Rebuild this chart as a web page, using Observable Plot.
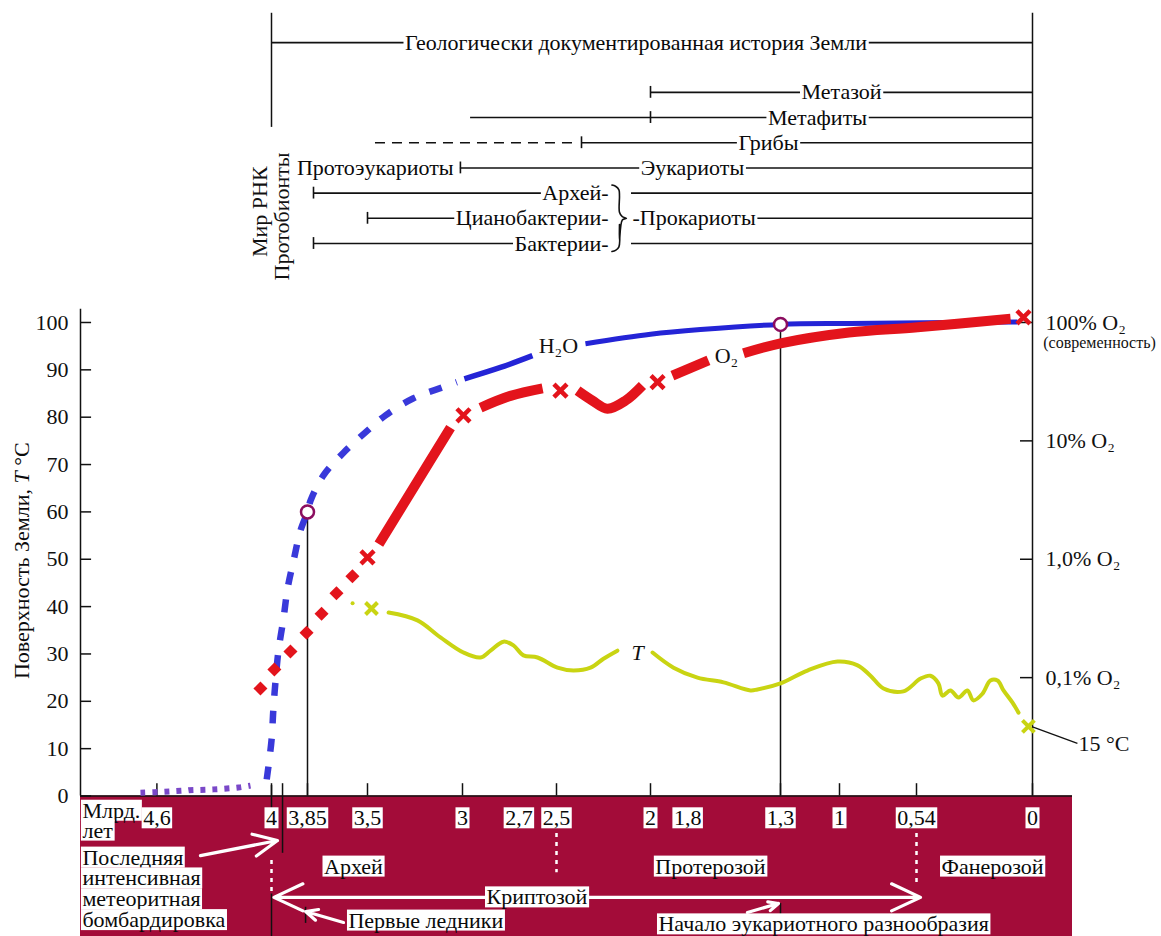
<!DOCTYPE html>
<html><head><meta charset="utf-8">
<script src="https://cdn.jsdelivr.net/npm/d3@7"></script>
<script src="https://cdn.jsdelivr.net/npm/@observablehq/plot@0.6"></script>
<style>body{margin:0;background:#fff} svg{display:block}</style>
</head><body><div id="chart"></div>
<script>
// ---------------- DATA (age in billions of years, value in % / °C) ----------------
const ageTicks = [4.6, 4, 3.85, 3.5, 3, 2.5, 2, 1.3, 1, 0.54, 0];
const ageLabelValues = [4.6, 4, 3.85, 3.5, 3, 2.7, 2.5, 2, 1.8, 1.3, 1, 0.54, 0];
const ageLabels = ["4,6", "4", "3,85", "3,5", "3", "2,7", "2,5", "2", "1,8", "1,3", "1", "0,54", "0"];
const tempTicks = [0, 10, 20, 30, 40, 50, 60, 70, 80, 90, 100];
const o2TickValues = [100, 75, 50, 25];
const o2TickLabels = ["100% O₂", "10% O₂", "1,0% O₂", "0,1% O₂"];

// H2O (blue)
const h2oDotted = [[4.686, 0.7], [4.565, 0.9], [4.435, 1.2], [4.304, 1.4], [4.173, 1.8], [4.11, 2.2]];
const h2oDashed = [[4.025, 3.5], [4.0, 11.7], [3.992, 18.5], [3.983, 24.4], [3.971, 30.7], [3.95, 37.5], [3.933, 43.8],
  [3.908, 49.7], [3.879, 56.1], [3.85, 60], [3.832, 62.4], [3.757, 67.7], [3.64, 72.5], [3.512, 76.8],
  [3.405, 80.4], [3.258, 84.0], [3.105, 86.3], [3.03, 87.4]];
const h2oSolid1 = [[2.99, 88.1], [2.798, 90.5], [2.628, 93.0]];
const h2oSolid2 = [[2.346, 95.5], [2.0, 97.5], [1.731, 98.5], [1.3, 99.6], [0.934, 99.8], [0.382, 100], [0.07, 100.1]];

// O2 (red)
const o2Diamonds = [[4.058, 22.7], [3.988, 26.7], [3.921, 30.5], [3.854, 34.5], [3.768, 38.5], [3.681, 42.8], [3.588, 46.4]];
const o2Crosses = [[3.5, 50.4], [2.995, 80.4], [2.479, 85.6], [1.962, 87.4], [0.042, 101.1]];
const o2Seg1 = [[3.44, 53.2], [3.25, 65.6], [3.063, 77.8]];
const o2Seg2 = [[2.904, 82.0], [2.745, 84.5], [2.574, 86.1]];
const o2Seg3 = [[2.388, 85.6], [2.309, 83.5], [2.229, 81.8], [2.133, 83.5], [2.043, 86.7]];
const o2Seg4 = [[1.882, 88.8], [1.688, 92.0]];
const o2Seg5 = [[1.499, 93.5], [1.3, 95.6], [0.944, 97.9], [0.535, 99.0], [0.102, 100.8]];

// Temperature (yellow)
const tempDot = [[3.587, 40.7]];
const tempCrosses = [[3.479, 39.6], [0.019, 14.7]];
const tempSeg1 = [[3.389, 38.75], [3.237, 37.1], [3.116, 33.5], [2.995, 30.3], [2.904, 29.25], [2.851, 30.7],
  [2.782, 32.6], [2.729, 31.8], [2.676, 29.7], [2.601, 29.25], [2.495, 27.1], [2.41, 26.5], [2.319, 27.1],
  [2.25, 29.0], [2.176, 30.7]];
const tempSeg2 = [[1.989, 30.3], [1.876, 27.1], [1.747, 25.0], [1.607, 24.0], [1.462, 22.3], [1.424, 22.5],
  [1.3, 23.8], [1.163, 26.5], [1.01, 28.4], [0.892, 27.6], [0.815, 25.4], [0.737, 22.7], [0.618, 22.1],
  [0.521, 24.8], [0.475, 25.4], [0.438, 23.8], [0.419, 21.2], [0.382, 22.3], [0.344, 20.8], [0.303, 22.3],
  [0.275, 20.2], [0.233, 21.6], [0.196, 24.4], [0.163, 24.4], [0.135, 22.3], [0.093, 19.7], [0.065, 17.6]];

// Key points
const keyPoints = [[3.85, 60], [1.3, 99.6]];

// Lineages timeline (row 0 = top)
const lineageNames = ["Метазой", "Метафиты", "Грибы", "Эукариоты", "Архей-", "Цианобактерии-", "Бактерии-"];
const lineageStart = [2.0, 2.957, 2.367, 3.011, 3.815, 3.5, 3.815];
const lineageLabelAge = [0.988, 1.112, 1.365, 1.774, 2.223, 2.223, 2.223];
const lineageBars = [[2.0, 0], [2.0, 1], [2.367, 2], [3.011, 3], [3.815, 4], [3.5, 5], [3.815, 6]];
const fungiDashed = [3.458, 2.41];
const prokaryoteRightStart = 2.101;

// Eras and events
const eraNames = ["Архей", "Протерозой", "Фанерозой"];
const eraLabelAge = [3.582, 1.677, 0.186];
const meteoriteLines = ["Последняя", "интенсивная", "метеоритная", "бомбардировка"];

// ---------------- LAYOUT ----------------
const W = 1161, H = 936;
const xDomain = [5.0, 4, 3.85, 3.5, 3, 2.5, 2, 1.3, 1, 0.54, 0, -0.2155];
const xRange = [80, 271, 307, 367, 462, 556, 650, 780, 839, 916, 1032, 1072];
const yMin = -29.67, yMax = 168.0;
const ROW0 = 148.6, ROWSTEP = 5.32;
const rowV = k => ROW0 - ROWSTEP * k;
const GEO_V = 159.1;

const RED = "#e3141c", BLUE = "#2424d6", PURPLE = "#7a48c8", YELLOW = "#c9d412",
      MAROON = "#a30c39", RING = "#8b0d5f", INK = "#111111", BOXINK = "#0a0a0a", TITLEINK = "#0b0b0b";
const serif = "Liberation Serif";
const FS = 22;
const P = a => a.map(([x, y]) => ({x, y}));
const left = xDomain[0], right = xDomain[xDomain.length - 1];

const boxedText = (data, opts) => Plot.text(data, {fontFamily: serif, fontSize: FS, fill: BOXINK, ...opts});

// brace joining the three prokaryote rows
const braceX = [2.205, 2.186, 2.168, 2.165, 2.165, 2.15, 2.128, 2.15, 2.165, 2.165, 2.168, 2.186, 2.205];
const braceDY = [1.7, 1.45, 0.7, -0.6, null, 0.35, 0, -0.35, null, 0.6, -0.7, -1.45, -1.7];
const braceRow = [4, 4, 4, 4, 5, 5, 5, 5, 5, 6, 6, 6, 6];
const bracePts = braceX.map((x, i) => ({x, y: braceDY[i] === null ? null : rowV(braceRow[i]) + braceDY[i]}))
  .filter(d => d.y !== null);
bracePts.splice(4, 0, {x: 2.165, y: rowV(5) + 1.3});
bracePts.splice(9, 0, {x: 2.165, y: rowV(5) - 1.3});

const marks = [
  // bottom band
  Plot.rect([0], {x1: left, x2: right, y1: yMin, y2: 0, fill: MAROON}),
  // axes lines
  Plot.ruleY([0], {x1: left, x2: right, stroke: INK, strokeWidth: 1.5}),
  Plot.ruleX([left], {y1: 0, y2: 102.8, stroke: INK, strokeWidth: 1.5}),
  Plot.ruleX([0], {y1: 0, y2: 165.3, stroke: INK, strokeWidth: 1.5}),
  Plot.ruleX([4], {y1: 141.2, y2: 165.3, stroke: INK, strokeWidth: 1.5}),
  Plot.ruleY(tempTicks, {x1: left, x2: 4.942, stroke: INK, strokeWidth: 1.5}),
  Plot.ruleY(o2TickValues, {x1: 0, x2: 0.056, stroke: INK, strokeWidth: 1.5}),
  Plot.ruleX(ageTicks, {y1: 0, y2: 2.6, stroke: INK, strokeWidth: 1.5}),
  Plot.axisY({anchor: "left", ticks: tempTicks, tickSize: 0, tickPadding: 12, label: null,
    fontSize: FS, fontFamily: serif, fill: INK}),

  // guide lines from key points
  Plot.ruleX(P(keyPoints), {x: "x", y1: 0, y2: "y", stroke: INK, strokeWidth: 1.5}),

  // band details
  Plot.ruleX([{x: 2.5, a: -7.9, b: -16.2}, {x: 0.54, a: -7.9, b: -19.2}, {x: 4.0, a: -13.6, b: -20.7}],
    {x: "x", y1: "a", y2: "b", stroke: "white", strokeWidth: 2.5, strokeDasharray: "4,5"}),
  Plot.ruleX([{x: 4.0, a: 2.2, b: -2.6}, {x: 3.954, a: 2.6, b: -12.1}, {x: 4.0, a: -20.7, b: yMin},
    {x: 1.3, a: -22.7, b: -25.6}, {x: 3.858, a: -23.5, b: -26.9}],
    {x: "x", y1: "a", y2: "b", stroke: INK, strokeWidth: 1.5}),
  Plot.arrow([
      {x1: 4.372, y1: -12.6, x2: 3.975, y2: -9.4},
      {x1: 2.604, y1: -21.4, x2: 3.99, y2: -21.4},
      {x1: 2.604, y1: -21.4, x2: 0.521, y2: -21.4},
      {x1: 3.64, y1: -26.7, x2: 3.858, y2: -24.4},
      {x1: 1.478, y1: -24.6, x2: 1.311, y2: -22.7}],
    {x1: "x1", y1: "y1", x2: "x2", y2: "y2", stroke: "white", strokeWidth: 3.2, headLength: 15, headAngle: 50}),

  // top timeline
  Plot.ruleY([GEO_V], {x1: 4, x2: 0, stroke: INK, strokeWidth: 1.6}),
  Plot.ruleY([0, 1, 2, 3], {y: k => rowV(k), x1: k => lineageStart[k], x2: 0, stroke: INK, strokeWidth: 1.6}),
  Plot.ruleY([2], {y: k => rowV(k), x1: fungiDashed[0], x2: fungiDashed[1], stroke: INK, strokeWidth: 1.6, strokeDasharray: "10,7"}),
  Plot.ruleY([4, 5, 6], {y: k => rowV(k), x1: k => lineageStart[k], x2: k => lineageLabelAge[k], stroke: INK, strokeWidth: 1.6}),
  Plot.ruleY([4, 5, 6], {y: k => rowV(k), x1: prokaryoteRightStart, x2: 0, stroke: INK, strokeWidth: 1.6}),
  Plot.ruleX(lineageBars, {x: d => d[0], y1: d => rowV(d[1]) - 1.25, y2: d => rowV(d[1]) + 1.25, stroke: INK, strokeWidth: 1.6}),
  Plot.line(bracePts, {x: "x", y: "y", stroke: INK, strokeWidth: 1.6, curve: "catmull-rom"}),

  // curves: H2O
  Plot.line(P(h2oDotted), {x: "x", y: "y", stroke: PURPLE, strokeWidth: 6, strokeDasharray: "5,7", strokeLinecap: "butt", curve: "catmull-rom"}),
  Plot.line(P(h2oDashed), {x: "x", y: "y", stroke: BLUE, strokeWidth: 6.5, strokeDasharray: "13,15", strokeLinecap: "butt", curve: "catmull-rom", strokeOpacity: 0.9}),
  Plot.line(P(h2oSolid1), {x: "x", y: "y", stroke: BLUE, strokeWidth: 5.5, strokeLinecap: "butt", curve: "catmull-rom"}),
  Plot.line(P(h2oSolid2), {x: "x", y: "y", stroke: BLUE, strokeWidth: 5, strokeLinecap: "butt", curve: "catmull-rom"}),
  // O2
  ...[o2Seg1, o2Seg2, o2Seg3, o2Seg4, o2Seg5].map(s =>
    Plot.line(P(s), {x: "x", y: "y", stroke: RED, strokeWidth: 10, strokeLinecap: "butt", curve: "catmull-rom"})),
  Plot.dot(P(o2Diamonds), {x: "x", y: "y", symbol: "square", rotate: 45, r: 5.6, fill: RED}),
  Plot.dot(P(o2Crosses), {x: "x", y: "y", symbol: "times", r: 6, stroke: RED, strokeWidth: 4.5}),
  // Temperature
  Plot.line(P(tempSeg1), {x: "x", y: "y", stroke: YELLOW, strokeWidth: 4, curve: "catmull-rom"}),
  Plot.line(P(tempSeg2), {x: "x", y: "y", stroke: YELLOW, strokeWidth: 4, curve: "catmull-rom"}),
  Plot.dot(P(tempDot), {x: "x", y: "y", r: 2, fill: YELLOW}),
  Plot.dot(P(tempCrosses), {x: "x", y: "y", symbol: "times", r: 5.5, stroke: YELLOW, strokeWidth: 4}),
  // key point rings
  Plot.dot(P(keyPoints), {x: "x", y: "y", r: 6.5, fill: "white", stroke: RING, strokeWidth: 2.5}),

  // curve labels
  Plot.text([{x: 2.49, y: 95.1, t: "H₂O"}, {x: 1.591, y: 93.0, t: "O₂"}], {x: "x", y: "y", text: "t", fontFamily: serif, fontSize: FS, fill: INK}),
  Plot.text([{x: 2.069, y: 30.3}], {x: "x", y: "y", text: () => "T", fontFamily: serif, fontSize: FS, fontStyle: "italic", fill: INK}),

  // right-hand O2 labels
  Plot.text(o2TickValues, {x: -0.07, y: d => d, text: (d, i) => o2TickLabels[i], textAnchor: "start", fontFamily: serif, fontSize: FS, fill: INK}),
  Plot.text(["(современность)"], {x: -0.058, y: 95.6, text: d => d, textAnchor: "start", fontFamily: serif, fontSize: 16, fill: INK}),
  Plot.link([{x1: 0.0, y1: 14.6, x2: -0.242, y2: 11.1}], {x1: "x1", y1: "y1", x2: "x2", y2: "y2", stroke: INK, strokeWidth: 1.3}),
  Plot.text(["15 °C"], {x: -0.248, y: 10.9, text: d => d, textAnchor: "start", fontFamily: serif, fontSize: FS, fill: INK}),

  // y axis title and rotated labels
  Plot.text(["Поверхность Земли, T °C"], {x: 5.304, y: 49.7, text: d => d, rotate: -90, fontFamily: serif, fontSize: FS, fill: TITLEINK}),
  Plot.text(["Мир РНК"], {x: 4.063, y: 123.4, text: d => d, rotate: -90, fontFamily: serif, fontSize: FS, fill: INK}),
  Plot.text(["Протобионты"], {x: 3.958, y: 122.4, text: d => d, rotate: -90, fontFamily: serif, fontSize: FS, fill: INK}),

  // timeline labels (boxed to cut the lines)
  boxedText(["Геологически документированная история Земли"], {x: 2.077, y: GEO_V, text: d => d}),
  boxedText([0, 1, 2, 3], {x: k => lineageLabelAge[k], y: k => rowV(k), text: k => lineageNames[k]}),
  boxedText([4, 5, 6], {x: k => lineageLabelAge[k], y: k => rowV(k), text: k => lineageNames[k], textAnchor: "end"}),
  boxedText(["Протоэукариоты"], {x: 3.047, y: rowV(3), text: d => d, textAnchor: "end"}),
  boxedText(["-Прокариоты"], {x: 2.096, y: rowV(5), text: d => d, textAnchor: "start"}),

  // band labels
  boxedText(ageLabelValues, {x: d => d, y: -4.7, text: (d, i) => ageLabels[i]}),
  boxedText(["Млрд.", "лет"], {x: 4.99, y: (d, i) => [-3.1, -7.3][i], text: d => d, textAnchor: "start"}),
  boxedText(eraNames, {x: (d, i) => eraLabelAge[i], y: -14.9, text: d => d}),
  boxedText(meteoriteLines, {x: 4.99, y: (d, i) => [-13.0, -17.4, -21.8, -26.2][i], text: d => d, textAnchor: "start"}),
  boxedText(["Криптозой"], {x: 2.604, y: -21.4, text: d => d}),
  boxedText(["Первые ледники"], {x: 3.611, y: -26.3, text: d => d, textAnchor: "start"}),
  boxedText(["Начало эукариотного разнообразия"], {x: 1.957, y: -27.1, text: d => d, textAnchor: "start"})
];

const svg = Plot.plot({
  width: W, height: H,
  marginLeft: 80, marginRight: 89, marginTop: 0, marginBottom: 0,
  style: {background: "white", fontFamily: serif, fontSize: "22px", color: INK},
  x: {type: "linear", domain: xDomain, range: xRange, axis: null},
  y: {type: "linear", domain: [yMin, yMax], range: [H, 0], axis: null},
  marks
});
document.getElementById("chart").append(svg);

// white boxes behind boxed labels
svg.querySelectorAll(`g[fill="${BOXINK}"] text`).forEach(t => {
  const b = t.getBBox();
  const r = document.createElementNS("http://www.w3.org/2000/svg", "rect");
  r.setAttribute("x", b.x - 1.5);
  r.setAttribute("y", b.y + 2);
  r.setAttribute("width", b.width + 3);
  r.setAttribute("height", b.height - 4);
  r.setAttribute("fill", "white");
  const tr = t.getAttribute("transform");
  if (tr) r.setAttribute("transform", tr);
  t.parentNode.insertBefore(r, t);
});
// italic T in the axis title
svg.querySelectorAll(`g[fill="${TITLEINK}"] text`).forEach(t => {
  t.textContent = "";
  const parts = [["Поверхность Земли, ", null], ["T", "italic"], [" °C", null]];
  for (const [s, st] of parts) {
    const ts = document.createElementNS("http://www.w3.org/2000/svg", "tspan");
    ts.textContent = s;
    if (st) ts.setAttribute("font-style", st);
    t.appendChild(ts);
  }
});
</script></body></html>
